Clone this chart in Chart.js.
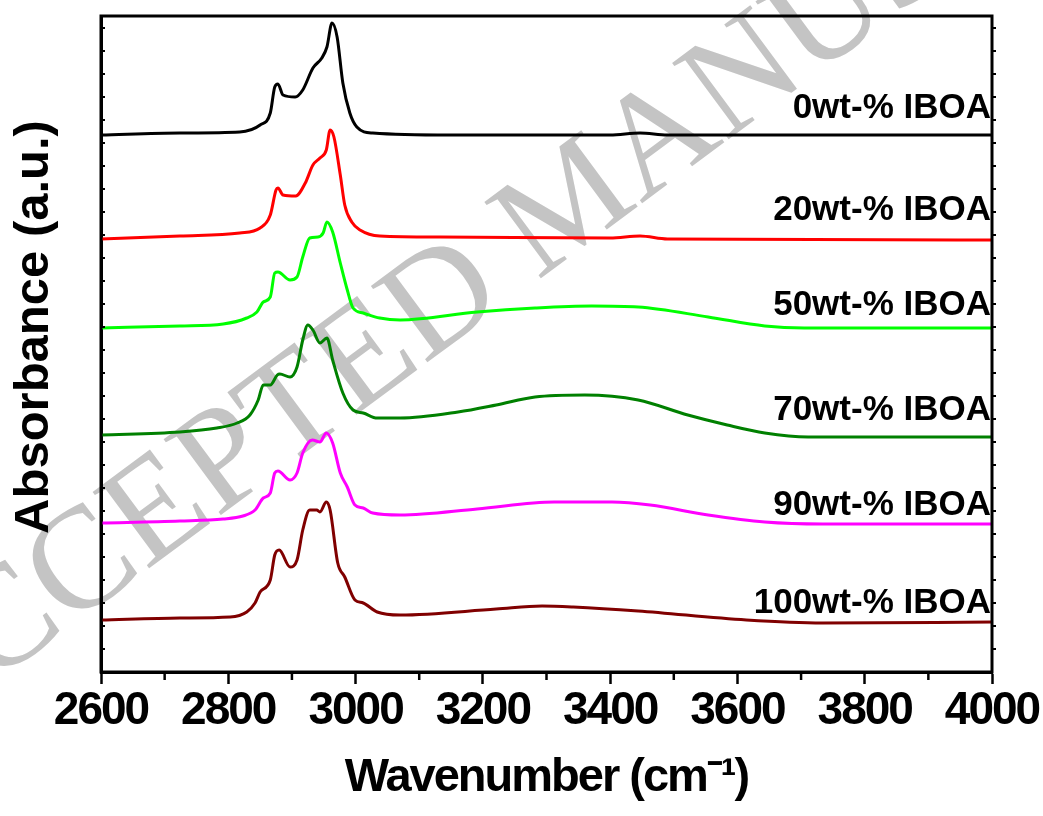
<!DOCTYPE html>
<html lang="en">
<head>
    <meta charset="UTF-8">
    <title>FTIR spectra - IBOA content</title>
    <script src="https://cdn.jsdelivr.net/npm/chart.js"></script>
    <style>
        body {
            margin: 0;
            padding: 0;
            background-color: #fff;
        }
    </style>
</head>
<body>

    <canvas id="myChart" width="1043" height="816"></canvas>

    <script>
        // sample names (drawn as labels at the right end of each curve)
        var sampleNames = ['0wt-% IBOA', '20wt-% IBOA', '50wt-% IBOA', '70wt-% IBOA', '90wt-% IBOA', '100wt-% IBOA'];

        // wavenumber (cm-1) and stacked absorbance (a.u.)
        var wn0 = [2600, 2724, 2818, 2850, 2866, 2873, 2878, 2886, 2905, 2917, 2933, 2947, 2955, 2963, 2971, 2980, 2991, 3002, 3027, 3148, 3400, 3447, 3490, 4000];
        var abs0 = [5.37, 5.39, 5.40, 5.47, 5.59, 5.85, 5.88, 5.77, 5.75, 5.82, 6.04, 6.14, 6.25, 6.49, 6.35, 5.89, 5.59, 5.45, 5.39, 5.37, 5.37, 5.39, 5.37, 5.37];

        var wn20 = [2600, 2724, 2818, 2850, 2866, 2875, 2878, 2886, 2906, 2921, 2933, 2944, 2954, 2960, 2966, 2976, 2983, 2994, 3007, 3038, 3133, 3400, 3447, 3490, 4000];
        var abs20 = [4.33, 4.36, 4.39, 4.44, 4.57, 4.82, 4.84, 4.77, 4.76, 4.89, 5.07, 5.14, 5.22, 5.42, 5.35, 4.97, 4.67, 4.50, 4.42, 4.36, 4.35, 4.34, 4.36, 4.33, 4.32];

        var wn50 = [2600, 2724, 2792, 2829, 2845, 2855, 2866, 2873, 2878, 2897, 2908, 2917, 2928, 2941, 2949, 2955, 2964, 2976, 2987, 2996, 3012, 3038, 3070, 3191, 3282, 3371, 3444, 3554, 3643, 3705, 4000];
        var abs50 = [3.44, 3.46, 3.48, 3.54, 3.60, 3.70, 3.75, 3.99, 4.00, 3.92, 3.95, 4.15, 4.34, 4.35, 4.39, 4.50, 4.40, 4.09, 3.82, 3.64, 3.59, 3.54, 3.52, 3.60, 3.64, 3.66, 3.65, 3.55, 3.46, 3.44, 3.44];

        var wn70 = [2600, 2724, 2782, 2814, 2834, 2847, 2855, 2866, 2877, 2881, 2897, 2908, 2917, 2925, 2933, 2944, 2955, 2964, 2980, 2996, 3012, 3034, 3070, 3161, 3221, 3282, 3360, 3444, 3522, 3584, 3643, 3711, 4000];
        var abs70 = [2.37, 2.40, 2.44, 2.49, 2.57, 2.72, 2.87, 2.87, 2.97, 2.98, 2.95, 3.05, 3.32, 3.47, 3.42, 3.29, 3.34, 3.12, 2.79, 2.62, 2.59, 2.54, 2.54, 2.60, 2.67, 2.75, 2.77, 2.72, 2.57, 2.47, 2.39, 2.35, 2.35];

        var wn90 = [2600, 2724, 2792, 2823, 2842, 2855, 2866, 2873, 2878, 2897, 2908, 2917, 2932, 2944, 2954, 2964, 2976, 2987, 2999, 3012, 3027, 3070, 3191, 3312, 3403, 3463, 3554, 3643, 3734, 4000];
        var abs90 = [1.49, 1.51, 1.53, 1.56, 1.62, 1.74, 1.79, 1.99, 2.01, 1.92, 1.99, 2.19, 2.32, 2.30, 2.39, 2.29, 1.99, 1.85, 1.67, 1.64, 1.59, 1.57, 1.63, 1.70, 1.70, 1.67, 1.57, 1.50, 1.48, 1.48];

        var wn100 = [2600, 2724, 2803, 2829, 2842, 2850, 2866, 2873, 2880, 2897, 2908, 2917, 2928, 2939, 2944, 2954, 2960, 2972, 2983, 2999, 3012, 3034, 3070, 3221, 3293, 3342, 3444, 3614, 3734, 4000];
        var abs100 = [0.52, 0.54, 0.55, 0.60, 0.69, 0.80, 0.92, 1.17, 1.22, 1.05, 1.12, 1.42, 1.62, 1.62, 1.60, 1.70, 1.62, 1.09, 0.95, 0.72, 0.69, 0.60, 0.57, 0.63, 0.66, 0.65, 0.61, 0.52, 0.49, 0.50];

        // x axis tick values
        var xTicks = [2600, 2800, 3000, 3200, 3400, 3600, 3800, 4000];
        var xMinorTicks = [2700, 2900, 3100, 3300, 3500, 3700, 3900];
        // small unlabelled ticks on the left/right frame
        var yTickStep = 0.23;

        var allWn = [wn0, wn20, wn50, wn70, wn90, wn100];
        var allAbs = [abs0, abs20, abs50, abs70, abs90, abs100];
        var lineColors = ['#000000', '#ff0000', '#00ff00', '#008000', '#ff00ff', '#800000'];
        // how far (px) each label sits above the end of its curve
        var labelGap = [17, 20, 13, 17, 9, 9];

        function toPoints(xs, ys) {
            return xs.map(function (v, i) { return { x: v, y: ys[i] }; });
        }

        var decorPlugin = {
            id: 'decor',
            beforeDraw: function (chart) {
                var ctx = chart.ctx;
                ctx.save();
                ctx.fillStyle = '#fff';
                ctx.fillRect(0, 0, chart.width, chart.height);
                // grey "accepted manuscript" watermark
                ctx.translate(-94, 748);
                ctx.rotate(-36.5 * Math.PI / 180);
                ctx.font = '145px "Liberation Serif", "DejaVu Serif", serif';
                ctx.fillStyle = '#c4c4c4';
                ctx.textBaseline = 'alphabetic';
                ctx.fillText('ACCEPTED MANUSCRIPT', 0, 0);
                ctx.restore();
                // tighter type for the axis (tick labels and title)
                ctx.letterSpacing = '-2px';
            },
            beforeDatasetsDraw: function (chart) {
                chart.ctx.letterSpacing = '0px';
            },
            afterDraw: function (chart) {
                var ctx = chart.ctx;
                var a = chart.chartArea;
                var xs = chart.scales.x;
                var ys = chart.scales.y;
                ctx.save();
                ctx.letterSpacing = '0px';
                ctx.strokeStyle = '#000';
                ctx.lineWidth = 3;
                ctx.strokeRect(a.left, a.top, a.right - a.left, a.bottom - a.top);

                // minor ticks on the x axis
                ctx.lineWidth = 2.5;
                xMinorTicks.forEach(function (v) {
                    var px = xs.getPixelForValue(v);
                    ctx.beginPath();
                    ctx.moveTo(px, a.bottom);
                    ctx.lineTo(px, a.bottom + 8);
                    ctx.stroke();
                });

                // tiny ticks on left (inside) and right (outside) frame
                ctx.lineWidth = 2;
                for (var v = yTickStep; v < ys.max; v += yTickStep) {
                    var py = ys.getPixelForValue(v);
                    ctx.beginPath();
                    ctx.moveTo(a.left, py);
                    ctx.lineTo(a.left + 4, py);
                    ctx.moveTo(a.right, py);
                    ctx.lineTo(a.right + 4, py);
                    ctx.stroke();
                }

                // curve labels
                ctx.fillStyle = '#000';
                ctx.font = 'bold 35px "Liberation Sans", Arial, sans-serif';
                ctx.textAlign = 'right';
                ctx.textBaseline = 'alphabetic';
                chart.data.datasets.forEach(function (ds, i) {
                    var last = ds.data[ds.data.length - 1];
                    ctx.fillText(ds.label, a.right - 1, ys.getPixelForValue(last.y) - labelGap[i]);
                });

                // y axis title
                ctx.translate(48, 327);
                ctx.rotate(-Math.PI / 2);
                ctx.textAlign = 'center';
                ctx.font = 'bold 49px "Liberation Sans", Arial, sans-serif';
                ctx.fillText('Absorbance (a.u.)', 0, 0);
                ctx.restore();
            }
        };

        var ctx = document.getElementById('myChart').getContext('2d');

        var myChart = new Chart(ctx, {
            type: 'line',
            data: {
                datasets: sampleNames.map(function (name, i) {
                    return {
                        label: name,
                        data: toPoints(allWn[i], allAbs[i]),
                        borderColor: lineColors[i],
                        borderWidth: 3,
                        pointRadius: 0,
                        fill: false,
                        cubicInterpolationMode: 'monotone'
                    };
                })
            },
            options: {
                responsive: false,
                animation: false,
                layout: {
                    padding: { top: 16, right: 51, left: 0, bottom: 0 }
                },
                scales: {
                    x: {
                        type: 'linear',
                        min: 2600,
                        max: 4000,
                        border: { color: '#000', width: 3 },
                        grid: { drawOnChartArea: false, tickLength: 12, tickWidth: 2.5, tickColor: '#000' },
                        afterBuildTicks: function (scale) {
                            scale.ticks = xTicks.map(function (v) { return { value: v }; });
                        },
                        ticks: {
                            autoSkip: false,
                            maxRotation: 0,
                            padding: 0,
                            color: '#000',
                            callback: function (v) { return String(v); },
                            font: { family: '"Liberation Sans", Arial, sans-serif', size: 46, weight: 'bold' }
                        },
                        title: {
                            display: true,
                            text: 'Wavenumber (cm⁻¹)',
                            color: '#000',
                            padding: { top: 0, bottom: 10 },
                            font: { family: '"Liberation Sans", Arial, sans-serif', size: 47, weight: 'bold' }
                        },
                        afterFit: function (scale) {
                            scale.height = 144;
                            scale.paddingLeft = 0;
                            scale.paddingRight = 0;
                        }
                    },
                    y: {
                        min: 0,
                        max: 6.56,
                        border: { color: '#000', width: 3 },
                        grid: { display: false },
                        ticks: { display: false },
                        afterFit: function (scale) { scale.width = 101; }
                    }
                },
                plugins: {
                    legend: { display: false },
                    tooltip: { enabled: false }
                }
            },
            plugins: [decorPlugin]
        });
    </script>
</body>
</html>
